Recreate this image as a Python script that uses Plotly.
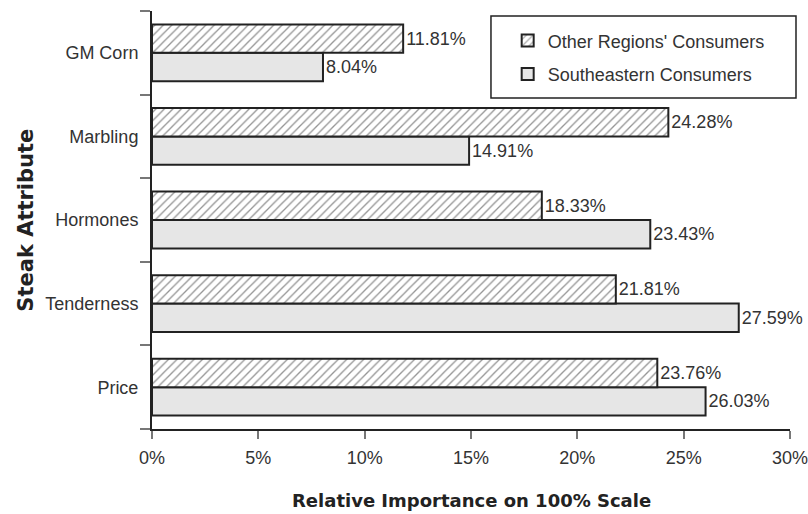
import plotly.graph_objects as go

categories = ["Price", "Tenderness", "Hormones", "Marbling", "GM Corn"]
other_regions = [23.76, 21.81, 18.33, 24.28, 11.81]
southeastern = [26.03, 27.59, 23.43, 14.91, 8.04]
x_ticks = [0, 5, 10, 15, 20, 25, 30]
x_tick_labels = ["0%", "5%", "10%", "15%", "20%", "25%", "30%"]

FONT = "Liberation Sans, Arial, Helvetica, sans-serif"
TXT = "#333333"

fig = go.Figure()
fig.add_trace(go.Bar(
    y=categories, x=southeastern, orientation="h",
    name="Southeastern Consumers", legendgroup="se",
    marker=dict(color="#e6e6e6", line=dict(color="#222222", width=2)),
    text=[f"{v:.2f}%" for v in southeastern], textposition="outside",
    textfont=dict(family=FONT, size=18, color=TXT),
    cliponaxis=False, legendrank=2,
))
fig.add_trace(go.Bar(
    y=categories, x=other_regions, orientation="h",
    name="Other Regions' Consumers", legendgroup="other",
    marker=dict(color="white", line=dict(color="#222222", width=2),
                pattern=dict(shape="/", fgcolor="#2a2a2a", bgcolor="white", size=6, solidity=0.22)),
    text=[f"{v:.2f}%" for v in other_regions], textposition="outside",
    textfont=dict(family=FONT, size=18, color=TXT),
    cliponaxis=False, legendrank=1,
))

# legend frame
fig.add_shape(type="rect", xref="paper", yref="paper",
              x0=0.5313, x1=1.0094, y0=0.7919, y1=0.988,
              line=dict(color="#222222", width=1.5), fillcolor="white", layer="below")

# axis titles
fig.add_annotation(text="Relative Importance on 100% Scale", xref="paper", yref="paper",
                   x=0.5, y=-0.172, xanchor="center", yanchor="middle", showarrow=False,
                   font=dict(family="DejaVu Sans", size=18, color="#222222", weight="bold"))
fig.add_annotation(text="Steak Attribute", xref="paper", yref="paper",
                   x=-0.198, y=0.5, xanchor="center", yanchor="middle", showarrow=False, textangle=-90,
                   font=dict(family="DejaVu Sans", size=21, color="#222222", weight="bold"))

fig.update_layout(
    width=808, height=514,
    margin=dict(l=152, r=18, t=11, b=85, autoexpand=False),
    paper_bgcolor="white", plot_bgcolor="white",
    barmode="group", bargap=0.32, bargroupgap=0,
    font=dict(family=FONT, size=18, color=TXT),
    showlegend=True,
    legend=dict(x=0.5575, y=0.973, xanchor="left", yanchor="top",
                bgcolor="rgba(0,0,0,0)", borderwidth=0,
                font=dict(family=FONT, size=18, color=TXT),
                traceorder="grouped", tracegroupgap=7, itemwidth=30),
    xaxis=dict(range=[0, 30], tickvals=x_ticks, ticktext=x_tick_labels, automargin=False,
               showgrid=False, zeroline=False, showline=True, linecolor="#222222", linewidth=2,
               ticks="outside", ticklen=8, tickcolor="#777777", tickwidth=1.5, ticklabelstandoff=3,
               ticklabeloverflow="allow",
               tickfont=dict(family=FONT, size=18, color=TXT)),
    yaxis=dict(showgrid=False, zeroline=False, showline=True, linecolor="#222222", linewidth=2,
               automargin=False, ticks="outside", ticklen=10, tickcolor="#777777", tickwidth=1.5,
               tickson="boundaries", range=[-0.5, 4.5], ticklabelstandoff=8,
               ticklabeloverflow="allow",
               tickfont=dict(family=FONT, size=18, color=TXT)),
)

fig.write_html("out.html", config={"displayModeBar": False},
               post_script="document.body.style.margin='0';")
